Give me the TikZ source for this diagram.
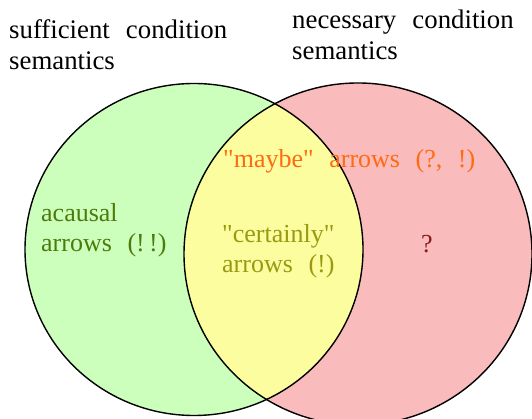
\documentclass[tikz,border=0pt]{standalone}
\usepackage{fontspec}
\setmainfont[WordSpace=2.4]{Liberation Serif}
\usepackage{tikz}
\usetikzlibrary{positioning}

\definecolor{suffgreen}{HTML}{CCFFBB}
\definecolor{necpink}{HTML}{F9BBBB}
\definecolor{bothyellow}{HTML}{FBFD9F}
\definecolor{acausaltext}{HTML}{4E7A0C}
\definecolor{certaintext}{HTML}{9A9A12}
\definecolor{maybetext}{HTML}{FF6A12}
\definecolor{unknowntext}{HTML}{8B1A1A}

\begin{document}
\begin{tikzpicture}[x=1pt, y=1pt,
    label text/.style={font=\fontsize{26}{30.5}\selectfont, inner sep=0pt, anchor=base west, align=left},
    title text/.style={label text, font=\fontsize{26.8}{31}\selectfont}]
    \useasboundingbox (0,0) rectangle (532,419);

    % Centres of the two sets
    \coordinate (suff) at (194,169.5);
    \coordinate (nec) at (358,165);

    % Fill the two sets
    \fill[suffgreen] (suff) ellipse [x radius=169, y radius=166];
    \fill[necpink] (nec) ellipse [x radius=174, y radius=171];

    % Overlap of the sets
    \begin{scope}
        \clip (suff) ellipse [x radius=169, y radius=166];
        \fill[bothyellow] (nec) ellipse [x radius=174, y radius=171];
    \end{scope}

    % Outlines
    \draw[line width=1.4pt] (suff) ellipse [x radius=169, y radius=166];
    \draw[line width=1.4pt] (nec) ellipse [x radius=174, y radius=171];

    % Titles of the sets (anchored at the last line)
    \node[title text] (suffTitle) at (9,349) {sufficient condition\\semantics};
    \node[title text] (necTitle) at (292,359) {necessary condition\\semantics};

    % Labels inside the regions
    \node[label text, text=acausaltext] (acausal) at (41,167) {acausal\\arrows (!\,!)};
    \node[label text, text=maybetext] (maybeArrows) at (223,251) {\textquotedbl maybe\textquotedbl{} arrows (?, !)};
    \node[label text, text=certaintext] (certainArrows) at (222,146) {\textquotedbl certainly\textquotedbl\\arrows (!)};
    \node[label text, text=unknowntext, anchor=base] (unknown) at (427,166) {?};
\end{tikzpicture}
\end{document}
